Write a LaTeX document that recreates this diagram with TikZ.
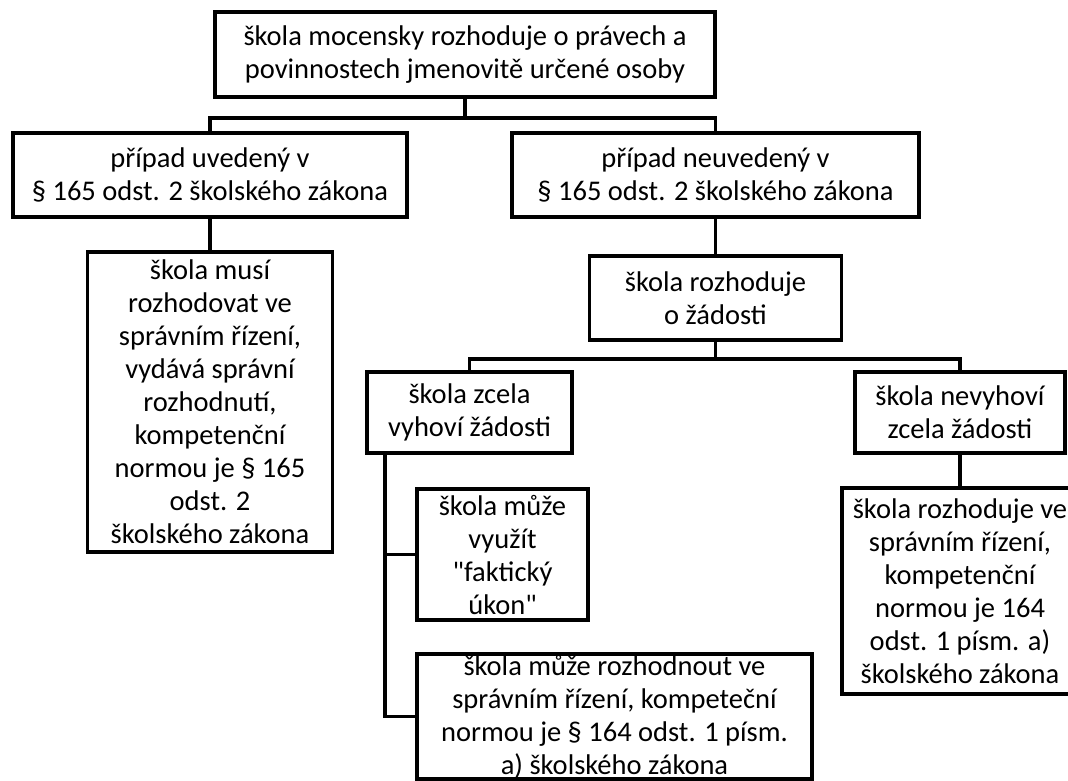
\documentclass[tikz,border=0pt]{standalone}
\usepackage{fontspec}
\newfontfamily\carl{Carlito}
\tikzset{
  box/.style={draw, line width=3.8pt, align=center, inner sep=0pt, font=\carl\fontsize{28.5}{33}\selectfont},
  conn/.style={line width=3.8pt},
}
\begin{document}
\begin{tikzpicture}[x=1pt,y=-1pt]
        \useasboundingbox (0,0) rectangle (1068,780);
        \node[box, minimum width=500pt, minimum height=85pt] (top) at (465,54.5) {škola mocensky rozhoduje o právech a\\povinnostech jmenovitě určené osoby};
        \node[box, minimum width=394pt, minimum height=84pt] (uved) at (210,175) {případ uvedený v\\§ 165 odst. 2 školského zákona};
        \node[box, minimum width=407pt, minimum height=84pt] (neuved) at (715.5,175) {případ neuvedený v\\§ 165 odst. 2 školského zákona};
        \node[box, minimum width=245pt, minimum height=300pt] (musi) at (210,402) {škola musí\\rozhodovat ve\\správním řízení,\\vydává správní\\rozhodnutí,\\kompetenční\\normou je § 165\\odst. 2\\školského zákona};
        \node[box, minimum width=252pt, minimum height=84pt] (zadost) at (715.5,298) {škola rozhoduje\\o žádosti};
        \node[box, minimum width=205pt, minimum height=81pt] (vyhovi) at (469.5,412.5) {škola zcela\\vyhoví žádosti};
        \node[box, minimum width=210pt, minimum height=81pt] (nevyhovi) at (960,412.5) {škola nevyhoví\\zcela žádosti};
        \node[box, minimum width=236pt, minimum height=206pt] (rizeni) at (960,591) {škola rozhoduje ve\\správním řízení,\\kompetenční\\normou je  164\\odst. 1 písm. a)\\školského zákona};
        \node[box, minimum width=171pt, minimum height=131pt] (vyuzit) at (502.5,554.5) {škola může\\využít\\"faktický\\úkon"};
        \node[box, minimum width=395pt, minimum height=125pt] (rozhod) at (614.5,716.5) {škola může rozhodnout ve\\správním řízení, kompeteční\\normou je § 164 odst. 1 písm.\\a) školského zákona};
        \draw[conn] (top.south) -- ++(0,19) -| (uved.north);
        \draw[conn] (top.south) -- ++(0,19) -| (neuved.north);
        \draw[conn] (uved) -- (musi);
        \draw[conn] (neuved) -- (zadost);
        \draw[conn] (zadost.south) -- ++(0,17) -| (vyhovi.north);
        \draw[conn] (zadost.south) -- ++(0,17) -| (nevyhovi.north);
        \draw[conn] (nevyhovi) -- (rizeni);
        \draw[conn] ([xshift=20pt]vyhovi.south west) |- (vyuzit.west);
        \draw[conn] ([xshift=20pt]vyhovi.south west) |- (rozhod.west);
\end{tikzpicture}
\end{document}
